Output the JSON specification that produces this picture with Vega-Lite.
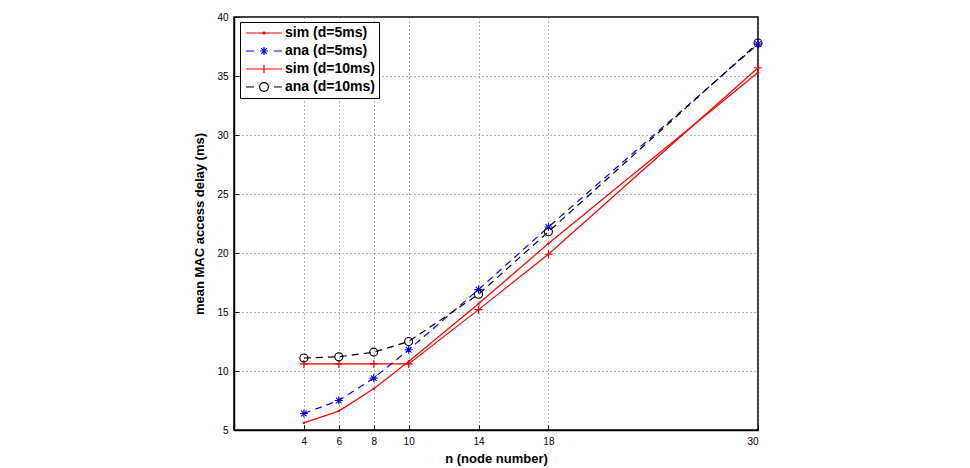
{
  "$schema": "https://vega.github.io/schema/vega-lite/v6.json",
  "width": 524,
  "height": 413,
  "autosize": {"type": "none"},
  "padding": {"left": 234, "top": 17, "right": 212, "bottom": 38},
  "background": "white",
  "config": {
    "font": "Liberation Sans",
    "view": {"stroke": "black", "strokeWidth": 1.5},
    "axis": {
      "domainColor": "black",
      "domainWidth": 1.5,
      "tickColor": "black",
      "labelColor": "black",
      "titleColor": "black",
      "labelFont": "Liberation Sans",
      "labelFontSize": 10,
      "titleFont": "Liberation Sans",
      "titleFontSize": 13,
      "titleFontWeight": "bold",
      "gridColor": "#666",
      "gridDash": [1, 3],
      "gridWidth": 1,
      "tickSize": -5,
      "labelPadding": 11
    }
  },
  "data": {
    "values": [
      {"n": 4, "delay": 5.6, "series": "sim (d=5ms)"},
      {"n": 6, "delay": 6.6, "series": "sim (d=5ms)"},
      {"n": 8, "delay": 8.5, "series": "sim (d=5ms)"},
      {"n": 10, "delay": 10.8, "series": "sim (d=5ms)"},
      {"n": 14, "delay": 15.7, "series": "sim (d=5ms)"},
      {"n": 18, "delay": 20.8, "series": "sim (d=5ms)"},
      {"n": 30, "delay": 35.3, "series": "sim (d=5ms)"},
      {"n": 4, "delay": 6.4, "series": "ana (d=5ms)"},
      {"n": 6, "delay": 7.5, "series": "ana (d=5ms)"},
      {"n": 8, "delay": 9.4, "series": "ana (d=5ms)"},
      {"n": 10, "delay": 11.8, "series": "ana (d=5ms)"},
      {"n": 14, "delay": 16.9, "series": "ana (d=5ms)"},
      {"n": 18, "delay": 22.2, "series": "ana (d=5ms)"},
      {"n": 30, "delay": 37.7, "series": "ana (d=5ms)"},
      {"n": 4, "delay": 10.6, "series": "sim (d=10ms)"},
      {"n": 6, "delay": 10.6, "series": "sim (d=10ms)"},
      {"n": 8, "delay": 10.6, "series": "sim (d=10ms)"},
      {"n": 10, "delay": 10.6, "series": "sim (d=10ms)"},
      {"n": 14, "delay": 15.2, "series": "sim (d=10ms)"},
      {"n": 18, "delay": 19.9, "series": "sim (d=10ms)"},
      {"n": 30, "delay": 35.7, "series": "sim (d=10ms)"},
      {"n": 4, "delay": 11.1, "series": "ana (d=10ms)"},
      {"n": 6, "delay": 11.2, "series": "ana (d=10ms)"},
      {"n": 8, "delay": 11.6, "series": "ana (d=10ms)"},
      {"n": 10, "delay": 12.5, "series": "ana (d=10ms)"},
      {"n": 14, "delay": 16.5, "series": "ana (d=10ms)"},
      {"n": 18, "delay": 21.8, "series": "ana (d=10ms)"},
      {"n": 30, "delay": 37.8, "series": "ana (d=10ms)"}
    ]
  },
  "encoding": {
    "x": {
      "field": "n",
      "type": "quantitative",
      "scale": {"domain": [0, 30], "nice": false},
      "axis": {"values": [4, 6, 8, 10, 14, 18, 30], "title": "n (node number)", "titleFontSize": 13, "titlePadding": 6}
    },
    "y": {
      "field": "delay",
      "type": "quantitative",
      "scale": {"domain": [5, 40], "nice": false, "zero": false},
      "axis": {"values": [5, 10, 15, 20, 25, 30, 35, 40], "title": "mean MAC access delay (ms)", "titlePadding": 10}
    },
    "color": {
      "field": "series",
      "type": "nominal",
      "scale": {
        "domain": ["sim (d=5ms)", "ana (d=5ms)", "sim (d=10ms)", "ana (d=10ms)"],
        "range": ["#ff0000", "#0000ff", "#ff0000", "#000000"]
      },
      "legend": {
        "title": null,
        "orient": "none",
        "legendX": 6,
        "legendY": 5,
        "padding": 4,
        "strokeColor": "black",
        "fillColor": "white",
        "labelFont": "Liberation Sans",
        "labelFontSize": 14,
        "labelFontWeight": "bold",
        "labelColor": "black",
        "symbolSize": 100,
        "symbolOffset": 13,
        "symbolStrokeWidth": 1.2,
        "rowPadding": 4,
        "labelOffset": 14,
        "encode": {
          "symbols": {
            "update": {
              "shape": {"signal": "datum.value === 'sim (d=5ms)' ? 'M-9,0L9,0M-0.5,0A0.5,0.5 0 1,1 0.5,0A0.5,0.5 0 1,1 -0.5,0Z' : datum.value === 'ana (d=5ms)' ? 'M-9,0L-5,0M5,0L9,0M-2,0L2,0M0,-2L0,2M-1.4,-1.4L1.4,1.4M-1.4,1.4L1.4,-1.4' : datum.value === 'sim (d=10ms)' ? 'M-9,0L9,0M0,-2L0,2' : 'M-9,0L-5,0M5,0L9,0M-2.2,0A2.2,2.2 0 1,1 2.2,0A2.2,2.2 0 1,1 -2.2,0Z'"},
              "size": {"value": 16},
              "strokeDash": {"value": []},
              "fill": {"value": "transparent"},
              "fillOpacity": {"value": 0}
            }
          }
        }
      }
    }
  },
  "layer": [
    {
      "transform": [{"filter": "indexof(datum.series, 'sim') === 0"}],
      "mark": {"type": "line", "strokeWidth": 1.2}
    },
    {
      "transform": [{"filter": "indexof(datum.series, 'ana') === 0"}],
      "mark": {"type": "line", "strokeWidth": 1.2, "strokeDash": [7, 5]}
    },
    {
      "transform": [{"filter": "datum.series === 'sim (d=5ms)'"}],
      "mark": {"type": "point", "filled": true, "size": 6, "shape": "circle", "opacity": 1}
    },
    {
      "transform": [{"filter": "datum.series === 'ana (d=5ms)'"}],
      "mark": {"type": "point", "filled": false, "strokeWidth": 1.1, "size": 64, "opacity": 1, "shape": "M-1,0L1,0M0,-1L0,1M-0.7,-0.7L0.7,0.7M-0.7,0.7L0.7,-0.7"}
    },
    {
      "transform": [{"filter": "datum.series === 'sim (d=10ms)'"}],
      "mark": {"type": "point", "filled": false, "strokeWidth": 1.1, "size": 64, "opacity": 1, "shape": "M-1,0L1,0M0,-1L0,1"}
    },
    {
      "transform": [{"filter": "datum.series === 'ana (d=10ms)'"}],
      "mark": {"type": "point", "filled": false, "strokeWidth": 1.1, "size": 64, "opacity": 1, "shape": "circle"}
    }
  ]
}
